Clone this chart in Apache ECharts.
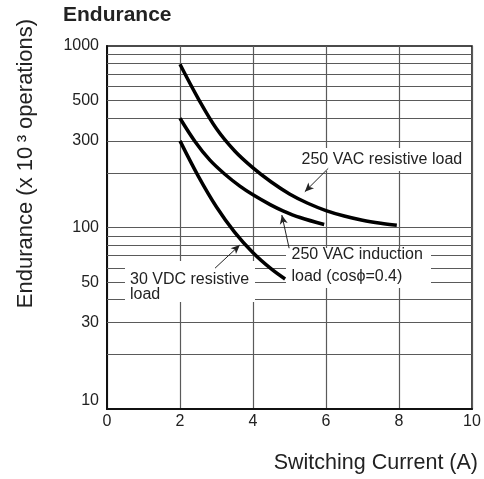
<!DOCTYPE html>
<html>
<head>
<meta charset="utf-8">
<script src="https://cdn.jsdelivr.net/npm/echarts@6/dist/echarts.min.js"></script>
<style>
html,body{margin:0;padding:0;background:#fff;}
#chart{width:484px;height:479px;}
</style>
</head>
<body>
<div id="chart"></div>
<script>
// ---- data ----
const ac250Resistive = [[2,793],[2.5,513],[3,350],[3.5,264],[4,213],[4.5,178],[5,153],[5.5,136],[6,124],[6.5,115.7],[7,109.7],[7.5,105.6],[7.94,103]];
const ac250Induction = [[2,400],[2.41,298],[2.82,235],[3.23,196.5],[3.64,169],[4,151.4],[4.47,133.7],[4.82,123.6],[5.29,113.5],[5.95,103.9]];
const dc30Resistive = [[2,300],[2.5,192],[3,129.7],[3.5,94],[4,72.6],[4.5,59.1],[4.88,52]];
const yGridValues = [20,30,40,50,60,70,80,90,100,200,300,400,500,600,700,800,900];
const yTickLabels = [10,30,50,100,300,500,1000];
const arrows = [
  [[6.06,211.6],[5.42,157.4]],
  [[4.99,76.9],[4.79,117.2]],
  [[2.96,59.7],[3.64,80.1]]
];

const FONT = 'Liberation Sans';
const TXT = '#222';
const GRID = '#5a5a5a';

const chart = echarts.init(document.getElementById('chart'), null, {renderer:'canvas'});

const curveStyle = {color:'#000', width:3.5};

chart.setOption({
  animation: false,
  backgroundColor: '#fff',
  textStyle: {fontFamily: FONT},
  title: {
    text: 'Endurance', left: 58, top: 0,
    textStyle: {fontSize: 21, fontWeight: 'bold', color: TXT, fontFamily: FONT}
  },
  grid: {
    left: 107, right: 12, top: 46, bottom: 70,
    show: true, borderColor: '#111', borderWidth: 1.5, backgroundColor: 'transparent'
  },
  xAxis: {
    type: 'value', min: 0, max: 10, interval: 2,
    name: 'Switching Current (A)',
    nameLocation: 'end', nameGap: 6,
    nameTextStyle: {fontSize: 21.5, color: TXT, align: 'right', verticalAlign: 'top', padding: [43,0,0,0]},
    axisLine: {show: true, lineStyle: {color: '#111', width: 2}},
    axisTick: {show: false},
    axisLabel: {fontSize: 16, color: TXT, margin: 5},
    splitLine: {show: true, lineStyle: {color: GRID, width: 1.2}}
  },
  yAxis: {
    type: 'log', logBase: 10, min: 10, max: 1000,
    name: 'Endurance (x 10\u2009\u00B3 operations)',
    nameLocation: 'middle', nameRotate: 90, nameGap: 70,
    nameTextStyle: {fontSize: 22, color: TXT, padding: [0,0,0,128]},
    axisLine: {show: true, lineStyle: {color: '#111', width: 2}},
    axisTick: {show: false},
    axisLabel: {show: false},
    splitLine: {show: false}
  },
  graphic: [
    {type:'rect', z:10, shape:{x:298, y:148, width:171, height:23}, style:{fill:'#fff'}},
    {type:'text', z:11, x:301.5, y:160, style:{text:'250 VAC resistive load', font:'16px "Liberation Sans"', fill:TXT, align:'left', verticalAlign:'middle'}},
    {type:'rect', z:10, shape:{x:286, y:248, width:145, height:40}, style:{fill:'#fff'}},
    {type:'text', z:11, x:291.5, y:255, style:{text:'250 VAC induction', font:'16px "Liberation Sans"', fill:TXT, align:'left', verticalAlign:'middle'}},
    {type:'text', z:11, x:291.5, y:276.7, style:{text:'load (cos\u03D5=0.4)', font:'16px "Liberation Sans"', fill:TXT, align:'left', verticalAlign:'middle'}},
    {type:'rect', z:10, shape:{x:125, y:261, width:130, height:41}, style:{fill:'#fff'}},
    {type:'text', z:11, x:130, y:280, style:{text:'30 VDC resistive', font:'16px "Liberation Sans"', fill:TXT, align:'left', verticalAlign:'middle'}},
    {type:'text', z:11, x:130, y:295, style:{text:'load', font:'16px "Liberation Sans"', fill:TXT, align:'left', verticalAlign:'middle'}}
  ],
  series: [
    {
      name: 'gridlines', type: 'line', data: [], silent: true,
      markLine: {
        z: 1, silent: true, symbol: 'none', animation: false,
        label: {show: false},
        lineStyle: {color: GRID, width: 1.2, type: 'solid'},
        emphasis: {disabled: true},
        data: yGridValues.map(v => ({yAxis: v}))
      }
    },
    {
      name: 'ylabels', type: 'line', data: [], silent: true,
      markLine: {
        z: 1, silent: true, symbol: 'none', animation: false,
        lineStyle: {color: 'rgba(0,0,0,0)', width: 0},
        label: {show: true, position: 'start', distance: 8, fontSize: 16, color: TXT, fontFamily: FONT, formatter: p => String(p.value)},
        emphasis: {disabled: true},
        data: yTickLabels.map(v => v === 10 ? {yAxis: v, label: {offset: [0, -8]}} : {yAxis: v})
      }
    },
    {name:'250 VAC resistive load', type:'line', z:15, data: ac250Resistive, smooth: 0.35, symbol:'none', lineStyle: curveStyle},
    {name:'250 VAC induction load', type:'line', z:15, data: ac250Induction, smooth: 0.35, symbol:'none', lineStyle: curveStyle},
    {name:'30 VDC resistive load', type:'line', z:15, data: dc30Resistive, smooth: 0.35, symbol:'none', lineStyle: curveStyle},
    {
      name: 'arrows', type: 'line', data: [], silent: true,
      markLine: {
        z: 20, silent: true, animation: false,
        symbol: ['none','arrow'], symbolSize: [6,9],
        label: {show: false},
        lineStyle: {color: '#222', width: 1, type: 'solid'},
        emphasis: {disabled: true},
        data: arrows.map(a => [{coord: a[0]}, {coord: a[1]}])
      }
    }
  ]
});
</script>
</body>
</html>
